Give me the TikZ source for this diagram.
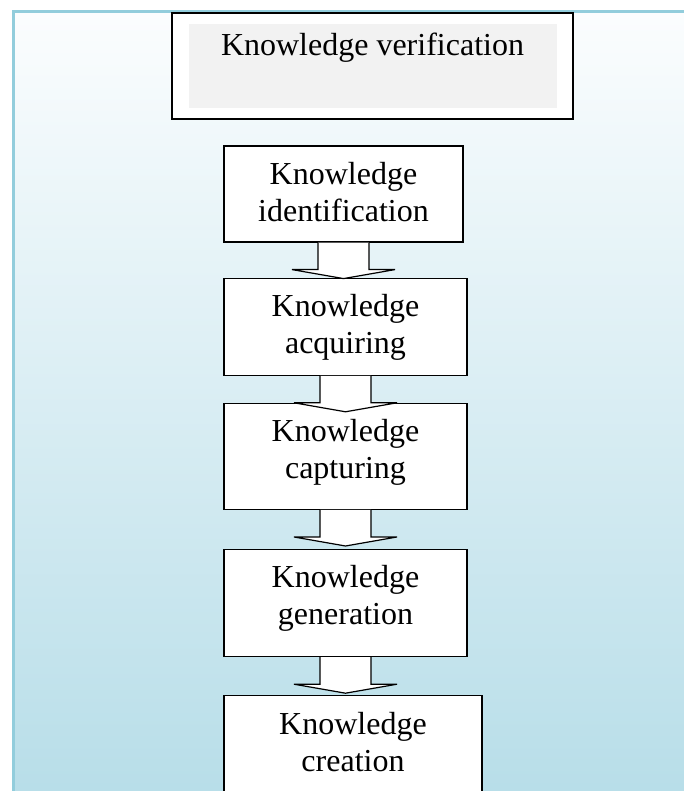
\documentclass[tikz,border=0pt]{standalone}
\usepackage{fontspec}
\setmainfont{Liberation Serif}
\usetikzlibrary{calc,positioning}
\definecolor{framecol}{HTML}{92CDDC}
\definecolor{shadetop}{HTML}{FBFDFE}
\definecolor{shadebot}{HTML}{B6DDE8}
\definecolor{innergray}{HTML}{F2F2F2}
\tikzset{
	kbox/.style={draw, fill=white, line width=1.2pt, minimum width=243pt, minimum height=97pt, inner sep=0pt},
	ktext/.style={align=center, inner sep=0pt, font=\fontsize{32}{37}\selectfont},
	blockarr/.style={draw, fill=white, line width=1.2pt, line join=miter},
}

\begin{document}
\begin{tikzpicture}[x=1pt, y=1pt, node distance=35pt]
	\useasboundingbox (0,0) rectangle (683,791);
	\shade[top color=shadetop, bottom color=shadebot] (13,-20) rectangle (720,779);
	\draw[framecol, line width=3pt] (13,-20) -- (13,779) -- (720,779);

	\node[draw, line width=1.5pt, fill=white, minimum width=401pt, minimum height=106pt] (verif) at (372.5,725) {};
	\node[fill=innergray, minimum width=368pt, minimum height=84pt] (verifin) at (verif.center) {};
	\node[ktext, below=9pt of verifin.north] (verifT) {Knowledge verification};

	\node[kbox, minimum width=239pt, minimum height=96pt] (ident) at (343.5,597) {};
	\node[kbox, below=35pt of ident, xshift=2pt] (acq) {};
	\node[kbox, below=27pt of acq, minimum height=106pt] (capt) {};
	\node[kbox, below=39pt of capt, minimum height=107pt] (gen) {};
	\node[kbox, below=38pt of gen, xshift=7.5pt, minimum width=258pt, minimum height=120pt] (creat) {};

	\node[ktext, below=16.5pt of ident.north] (identT) {Knowledge\\identification};
	\node[ktext, below=16.5pt of acq.north] (acqT) {Knowledge\\acquiring};
	\node[ktext, below=16.5pt of capt.north] (captT) {Knowledge\\capturing};
	\node[ktext, below=16.5pt of gen.north] (genT) {Knowledge\\generation};
	\node[ktext, below=16.5pt of creat.north] (creatT) {Knowledge\\creation};

	\foreach \a/\b in {ident/acq, acq/capt, capt/gen, gen/creat}
		\draw[blockarr] ($(\a.south)+(-25.5,0)$) -- ($(\a.south)+(-25.5,-27)$)
			-- ($(\a.south)+(-51.5,-27)$)
			-- ($(\a.south)!36pt!(\a.south |- \b.north)$)
			-- ($(\a.south)+(51.5,-27)$) -- ($(\a.south)+(25.5,-27)$)
			-- ($(\a.south)+(25.5,0)$);
\end{tikzpicture}
\end{document}
